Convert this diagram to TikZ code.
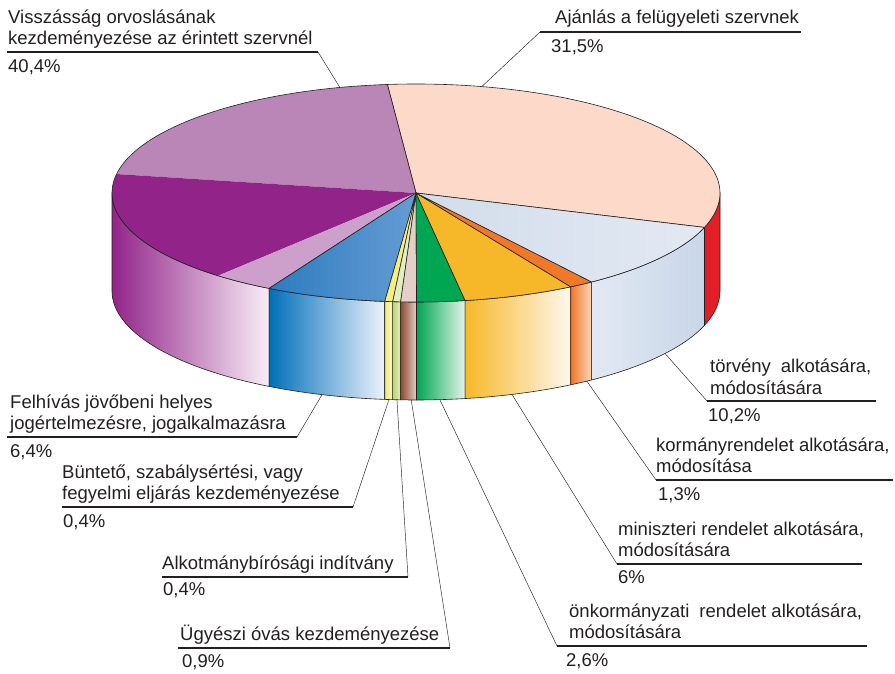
\documentclass[tikz,border=0pt]{standalone}
\usepackage{fontspec}
\setmainfont{Liberation Sans}
\usetikzlibrary{positioning,calc}

\definecolor{ink}{RGB}{35,31,32}
\definecolor{peach}{RGB}{252,217,201}
\definecolor{lilac}{RGB}{186,134,184}
\definecolor{lilacpale}{RGB}{204,160,202}
\definecolor{plum}{RGB}{146,36,137}
\definecolor{plumpale}{RGB}{248,238,246}
\definecolor{bluetop}{RGB}{44,124,192}
\definecolor{bluetopr}{RGB}{102,156,211}
\definecolor{bluedeep}{RGB}{0,112,186}
\definecolor{bluepale}{RGB}{238,242,251}
\definecolor{yelltop}{RGB}{244,238,130}
\definecolor{yellside}{RGB}{238,232,120}
\definecolor{lgreen}{RGB}{188,212,118}
\definecolor{lgreenpale}{RGB}{226,238,190}
\definecolor{tantop}{RGB}{228,208,198}
\definecolor{pbrown}{RGB}{140,74,54}
\definecolor{pgreen}{RGB}{0,166,81}
\definecolor{pgreenpale}{RGB}{230,244,234}
\definecolor{pgold}{RGB}{246,184,40}
\definecolor{pgoldpale}{RGB}{255,248,238}
\definecolor{porange}{RGB}{240,120,40}
\definecolor{porangepale}{RGB}{250,214,190}
\definecolor{ltblue}{RGB}{210,221,235}
\definecolor{ltbluer}{RGB}{226,233,243}
\definecolor{ltblueside}{RGB}{200,214,232}
\definecolor{pred}{RGB}{228,30,38}

% one wedge of the top face: start angle, end angle, fill options
\newcommand{\topslice}[3]{\path[draw=ink, line width=.6pt, line join=round, #3]
  (c) -- ($(c)+(#1:304 and 109)$) arc[start angle=#1, end angle=#2, x radius=304, y radius=109] -- cycle;}
% one piece of the front rim: start angle, end angle, fill options
\newcommand{\rimface}[3]{\path[draw=ink, line width=.6pt, line join=round, #3]
  ($(c)+(#1:304 and 109)$) arc[start angle=#1, end angle=#2, x radius=304, y radius=109]
  -- ++(0,-98) arc[start angle=#2, end angle=#1, x radius=304, y radius=109] -- cycle;}

\begin{document}
\begin{tikzpicture}[x=1pt, y=1pt,
    every node/.style={font=\fontsize{18.5}{21.5}\selectfont, text=ink},
    lbl/.style={anchor=south west, align=left, inner sep=0pt, execute at end node=\strut},
    pct/.style={anchor=north west, inner sep=0pt},
    uline/.style={draw=ink, line width=1.5pt},
    leader/.style={draw=ink, line width=.45pt}]
    \useasboundingbox (0,0) rectangle (895,674);
    \coordinate (c) at (416,481);
    \coordinate (cb) at (416,383);

    % rim
    \rimface{180}{241.1}{left color=plum, right color=plumpale}
    \rimface{241.1}{264.1}{left color=bluedeep, right color=bluepale}
    \rimface{264.1}{265.6}{left color=yellside, right color=yelltop!40}
    \rimface{265.6}{267.1}{left color=lgreen, right color=lgreenpale}
    \rimface{267.1}{270.1}{left color=pbrown, right color=tantop}
    \rimface{270.1}{279.3}{left color=pgreen, right color=pgreenpale}
    \rimface{279.3}{300.6}{left color=pgold, right color=pgoldpale}
    \rimface{300.6}{305.3}{left color=porange, right color=porangepale}
    \rimface{305.3}{341.6}{left color=ltbluer, right color=ltblueside}
    \rimface{341.6}{360}{fill=pred}

    % top
    \topslice{-18.4}{95.4}{fill=peach}
    \topslice{95.4}{170}{fill=lilac, draw=none}
    \topslice{170}{229.4}{fill=plum, draw=none}
    \topslice{229.4}{241.1}{fill=lilacpale, draw=none}
    \topslice{95.4}{241.1}{}
    \topslice{241.1}{264.1}{left color=bluetop, right color=bluetopr}
    \topslice{264.1}{265.6}{fill=yelltop}
    \topslice{265.6}{267.1}{fill=lgreenpale}
    \topslice{267.1}{270.1}{fill=tantop}
    \topslice{270.1}{279.3}{fill=pgreen}
    \topslice{279.3}{300.6}{fill=pgold}
    \topslice{300.6}{305.3}{fill=porange}
    \topslice{305.3}{341.6}{left color=ltblue, right color=ltbluer}

    % points on the rim
    \coordinate (r1) at ($(c)+(104.5:304 and 109)$);
    \coordinate (r2) at ($(c)+(77.5:304 and 109)$);
    \coordinate (r3) at ($(cb)+(325:304 and 109)$);
    \coordinate (r4) at ($(cb)+(304.2:304 and 109)$);
    \coordinate (r5) at ($(cb)+(288.4:304 and 109)$);
    \coordinate (r6) at ($(cb)+(274.5:304 and 109)$);
    \coordinate (r7) at ($(cb)+(252:304 and 109)$);
    \coordinate (r8) at ($(cb)+(264.9:304 and 109)$);
    \coordinate (r9) at ($(cb)+(266.4:304 and 109)$);
    \coordinate (r10) at ($(cb)+(269.1:304 and 109)$);

    % underlines
    \coordinate (u1a) at (7,622);   \coordinate (u1b) at (318,622);
    \coordinate (u2a) at (540,642); \coordinate (u2b) at (801,642);
    \coordinate (u3a) at (707,273); \coordinate (u3b) at (876,273);
    \coordinate (u4a) at (656,194); \coordinate (u4b) at (893,194);
    \coordinate (u5a) at (617,110); \coordinate (u5b) at (862,110);
    \coordinate (u6a) at (557,28);  \coordinate (u6b) at (867,28);
    \coordinate (u7a) at (7,237);   \coordinate (u7b) at (297,237);
    \coordinate (u8a) at (62,167);  \coordinate (u8b) at (353,167);
    \coordinate (u9a) at (162,97);  \coordinate (u9b) at (408,97);
    \coordinate (u10a) at (178,26); \coordinate (u10b) at (450,26);

    \node[lbl, above right=0.5pt and 1pt of u1a] (l1) {Visszásság orvoslásának\\kezdeményezése az érintett szervnél};
    \node[pct, below right=7pt and 1pt of u1a] (p1) {40,4\%};
    \node[lbl, above right=2pt and 15pt of u2a] (l2) {Ajánlás a felügyeleti szervnek};
    \node[pct, below right=7pt and 11pt of u2a] (p2) {31,5\%};
    \node[lbl, above right=0pt and 3pt of u3a] (l3) {törvény\hspace{10pt}alkotására,\\módosítására};
    \node[pct, below right=7pt and 1pt of u3a] (p3) {10,2\%};
    \node[lbl, above right=0.5pt and 0pt of u4a] (l4) {kormányrendelet alkotására,\\módosítása};
    \node[pct, below right=7pt and 2pt of u4a] (p4) {1,3\%};
    \node[lbl, above right=0.5pt and 1pt of u5a] (l5) {miniszteri rendelet alkotására,\\módosítására};
    \node[pct, below right=6pt and 1pt of u5a] (p5) {6\%};
    \node[lbl, above right=0.5pt and 12pt of u6a] (l6) {önkormányzati\hspace{10pt}rendelet alkotására,\\módosítására};
    \node[pct, below right=7pt and 9pt of u6a] (p6) {2,6\%};
    \node[lbl, above right=0.5pt and 3pt of u7a] (l7) {Felhívás jövőbeni helyes\\jogértelmezésre, jogalkalmazásra};
    \node[pct, below right=7pt and 3pt of u7a] (p7) {6,4\%};
    \node[lbl, above right=0.5pt and 0pt of u8a] (l8) {Büntető, szabálysértési, vagy\\fegyelmi eljárás kezdeményezése};
    \node[pct, below right=7pt and 1pt of u8a] (p8) {0,4\%};
    \node[lbl, above right=0.5pt and 0pt of u9a] (l9) {Alkotmánybírósági indítvány};
    \node[pct, below right=5pt and 1pt of u9a] (p9) {0,4\%};
    \node[lbl, above right=0.5pt and 2pt of u10a] (l10) {Ügyészi óvás kezdeményezése};
    \node[pct, below right=6pt and 4pt of u10a] (p10) {0,9\%};

    \draw[uline] (u1a) -- (u1b);
    \draw[uline] (u2a) -- (u2b);
    \draw[uline] (u3a) -- (u3b);
    \draw[uline] (u4a) -- (u4b);
    \draw[uline] (u5a) -- (u5b);
    \draw[uline] (u6a) -- (u6b);
    \draw[uline] (u7a) -- (u7b);
    \draw[uline] (u8a) -- (u8b);
    \draw[uline] (u9a) -- (u9b);
    \draw[uline] (u10a) -- (u10b);

    \draw[leader] (u1b) -- (r1);
    \draw[leader] (u2a) -- (r2);
    \draw[leader] (u3a) -- (r3);
    \draw[leader] (u4a) -- (r4);
    \draw[leader] (u5a) -- (r5);
    \draw[leader] (u6a) -- (r6);
    \draw[leader] (u7b) -- (r7);
    \draw[leader] (u8b) -- (r8);
    \draw[leader] (u9b) -- (r9);
    \draw[leader] (u10b) -- (r10);
\end{tikzpicture}
\end{document}
